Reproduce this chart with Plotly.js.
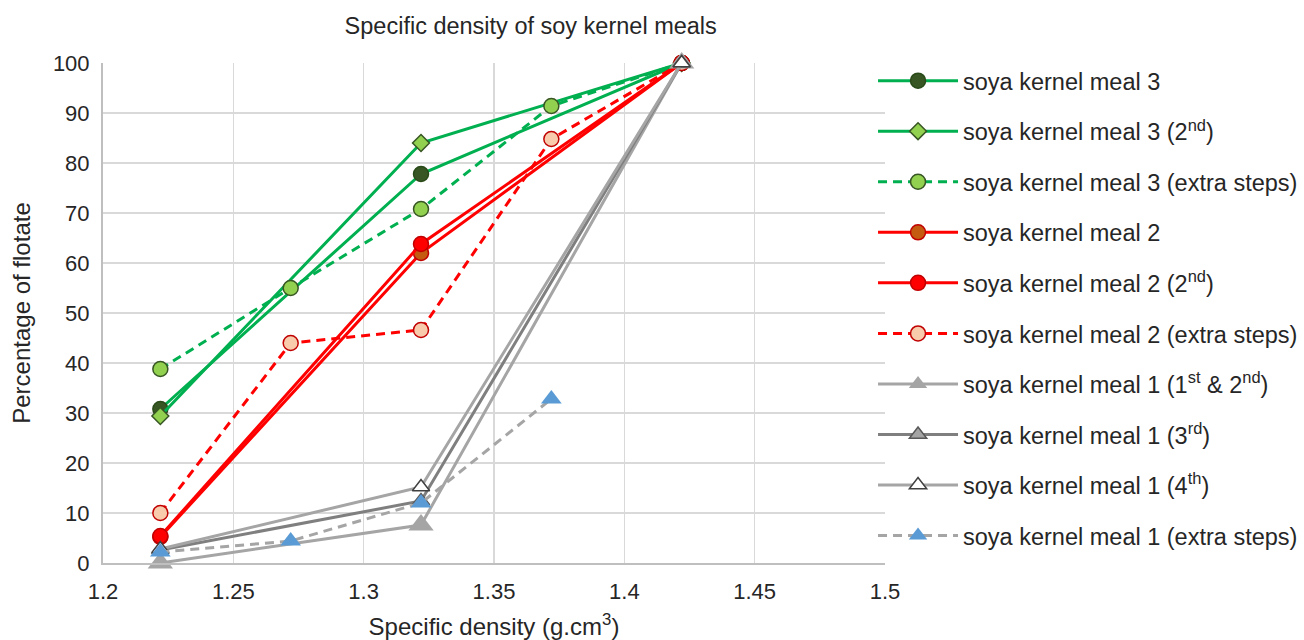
<!DOCTYPE html>
<html>
<head>
<meta charset="utf-8">
<script src="https://cdn.plot.ly/plotly-3.0.1.min.js"></script>
<style>html,body{margin:0;padding:0;background:#fff;}#chart{width:1304px;height:640px;}</style>
</head>
<body>
<div id="chart"></div>
<script>
// Data
const xThree = [1.222, 1.322, 1.422];
const xFive = [1.222, 1.272, 1.322, 1.372, 1.422];
const xFour = [1.222, 1.272, 1.322, 1.372];

const meal3 = [30.8, 77.8, 100];
const meal3_2nd = [29.4, 84.0, 100];
const meal3_extra = [38.8, 55.0, 70.8, 91.4, 100];
const meal2 = [5.2, 62.0, 100];
const meal2_2nd = [5.4, 63.8, 100];
const meal2_extra = [10.0, 44.0, 46.6, 84.8, 100];
const meal1_1st2nd = [0, 7.6, 100];
const meal1_3rd = [2.6, 12.4, 100];
const meal1_4th = [2.8, 15.2, 100];
const meal1_extra = [2.2, 4.4, 12.0, 32.8];

const seriesNames = [
  'soya kernel meal 3',
  'soya kernel meal 3 (2<sup>nd</sup>)',
  'soya kernel meal 3 (extra steps)',
  'soya kernel meal 2',
  'soya kernel meal 2 (2<sup>nd</sup>)',
  'soya kernel meal 2 (extra steps)',
  'soya kernel meal 1 (1<sup>st</sup> &amp; 2<sup>nd</sup>)',
  'soya kernel meal 1 (3<sup>rd</sup>)',
  'soya kernel meal 1 (4<sup>th</sup>)',
  'soya kernel meal 1 (extra steps)'
];

const xTickVals = [1.2, 1.25, 1.3, 1.35, 1.4, 1.45, 1.5];
const xTickText = ['1.2', '1.25', '1.3', '1.35', '1.4', '1.45', '1.5'];
const yTickVals = [0, 10, 20, 30, 40, 50, 60, 70, 80, 90, 100];

const GREEN = '#00B050', RED = '#FF0000';
function tr(i, x, y, line, marker) {
  return {
    type: 'scatter', mode: 'lines+markers', x: x, y: y, name: seriesNames[i],
    legendgroup: 'g' + i, line: line, marker: marker, cliponaxis: false
  };
}

const data = [
  tr(0, xThree, meal3, {color: GREEN, width: 3}, {symbol: 'circle', size: 15, color: '#375623', line: {color: '#2a4a1a', width: 1.5}}),
  tr(1, xThree, meal3_2nd, {color: GREEN, width: 3}, {symbol: 'diamond', size: 13, color: '#92D050', line: {color: '#375623', width: 1.5}}),
  tr(2, xFive, meal3_extra, {color: GREEN, width: 3, dash: '9px,6px'}, {symbol: 'circle', size: 15, color: '#92D050', line: {color: '#375623', width: 1.5}}),
  tr(3, xThree, meal2, {color: RED, width: 3}, {symbol: 'circle', size: 15, color: '#C55A11', line: {color: '#C00000', width: 1.5}}),
  tr(4, xThree, meal2_2nd, {color: RED, width: 3}, {symbol: 'circle', size: 15, color: '#FF0000', line: {color: '#C00000', width: 1.5}}),
  tr(5, xFive, meal2_extra, {color: RED, width: 3, dash: '9px,6px'}, {symbol: 'circle', size: 15, color: '#F8CBAD', line: {color: '#C00000', width: 1.5}}),
  tr(6, xThree, meal1_1st2nd, {color: '#A5A5A5', width: 3}, {symbol: 'triangle-up', size: 22, color: '#A5A5A5', line: {width: 0}}),
  tr(7, xThree, meal1_3rd, {color: '#7F7F7F', width: 3}, {symbol: 'triangle-up', size: 15, color: '#A5A5A5', line: {color: '#595959', width: 1.5}}),
  tr(8, xThree, meal1_4th, {color: '#A5A5A5', width: 3}, {symbol: 'triangle-up', size: 15, color: '#FFFFFF', line: {color: '#404040', width: 1.5}}),
  tr(9, xFour, meal1_extra, {color: '#A5A5A5', width: 3, dash: '9px,6px'}, {symbol: 'triangle-up', size: 18, color: '#5B9BD5', line: {width: 0}})
];

const FONT = 'Liberation Sans, Arial, sans-serif';
const TXT = '#262626';
const layout = {
  width: 1304, height: 640,
  paper_bgcolor: '#ffffff', plot_bgcolor: '#ffffff',
  margin: {l: 103, r: 419, t: 63, b: 77, autoexpand: false},
  font: {family: FONT, color: TXT, size: 22},
  title: {text: 'Specific density of soy kernel meals', font: {family: FONT, size: 23.5, color: TXT},
          xref: 'container', yref: 'container', x: 0.407, xanchor: 'center', y: 0.959, yanchor: 'middle'},
  xaxis: {
    range: [1.2, 1.5], tickvals: xTickVals, ticktext: xTickText,
    showgrid: true, gridcolor: '#D9D9D9', gridwidth: 1.5, zeroline: false,
    showline: true, linecolor: '#BFBFBF', linewidth: 2,
    ticks: '', ticklabelstandoff: 8,
    tickfont: {size: 22, family: FONT, color: TXT},
    title: {text: 'Specific density (g.cm<sup>3</sup>)', font: {size: 24, family: FONT, color: TXT}, standoff: 15},
    automargin: false, fixedrange: true
  },
  yaxis: {
    range: [0, 100], tickvals: yTickVals,
    showgrid: true, gridcolor: '#D9D9D9', gridwidth: 1.5, zeroline: false,
    showline: true, linecolor: '#BFBFBF', linewidth: 2,
    ticks: '', ticklabelstandoff: 7,
    tickfont: {size: 22, family: FONT, color: TXT},
    title: {text: 'Percentage of flotate', font: {size: 24, family: FONT, color: TXT}, standoff: 15},
    automargin: false, fixedrange: true
  },
  showlegend: true,
  legend: {
    xref: 'container', yref: 'container',
    x: 0.6695, xanchor: 'left', y: 0.908, yanchor: 'top',
    font: {size: 23.5, family: FONT, color: TXT},
    traceorder: 'grouped', tracegroupgap: 17, itemwidth: 80,
    maxheight: 620,
    bgcolor: 'rgba(0,0,0,0)', borderwidth: 0
  }
};

Plotly.newPlot('chart', data, layout, {displayModeBar: false, staticPlot: true});
</script>
</body>
</html>
